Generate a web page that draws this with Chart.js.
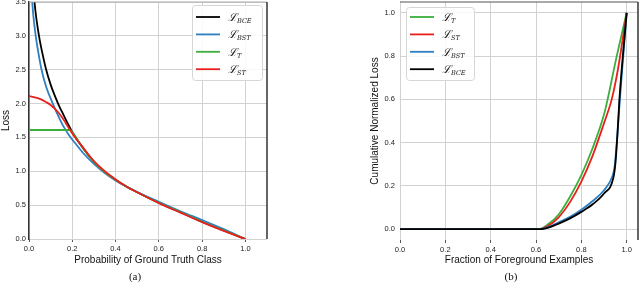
<!DOCTYPE html>
<html>
<head>
<meta charset="utf-8">
<script src="https://cdn.jsdelivr.net/npm/chart.js@4.4.0/dist/chart.umd.min.js"></script>
<style>
  body { margin: 0; background: #fff; width: 640px; height: 283px; position: relative; overflow: hidden; }
  .panel { position: absolute; top: 0; width: 320px; height: 283px; }
  .cap { position: absolute; top: 270px; width: 40px; text-align: center; font: 11px "Liberation Serif", serif; color: #111; line-height: 13px; }
</style>
</head>
<body>
<div class="panel" style="left:0"><canvas id="lossChart"></canvas></div>
<div class="panel" style="left:320px"><canvas id="cumChart"></canvas></div>
<div class="cap" style="left:115px">(a)</div>
<div class="cap" style="left:491px">(b)</div>
<script>
// (a) loss against probability of the ground truth class
const bceP    = [0.022, 0.03, 0.04, 0.05, 0.06, 0.077, 0.1, 0.12, 0.14, 0.16, 0.18, 0.2, 0.25, 0.3, 0.35, 0.4, 0.45, 0.5, 0.6, 0.7, 0.8, 0.9, 1.0];
const bceLoss = [3.62, 3.36, 3.12, 2.93, 2.77, 2.53, 2.28, 2.11, 1.96, 1.83, 1.7, 1.58, 1.34, 1.14, 0.99, 0.875, 0.775, 0.69, 0.535, 0.395, 0.255, 0.125, 0.0];
const bstP    = [0.012, 0.015, 0.02, 0.031, 0.045, 0.058, 0.08, 0.11, 0.135, 0.16, 0.19, 0.2, 0.25, 0.3, 0.35, 0.4, 0.45, 0.5, 0.6, 0.7, 0.8, 0.9, 1.0];
const bstLoss = [3.65, 3.5, 3.3, 3.0, 2.72, 2.5, 2.24, 2.0, 1.82, 1.66, 1.51, 1.47, 1.27, 1.11, 0.975, 0.865, 0.775, 0.695, 0.55, 0.41, 0.28, 0.145, 0.0];
const tP      = [0.0, 0.19, 0.2, 0.25, 0.3, 0.35, 0.4, 0.45, 0.5, 0.6, 0.7, 0.8, 0.9, 1.0];
const tLoss   = [1.61, 1.61, 1.58, 1.34, 1.14, 0.99, 0.875, 0.775, 0.69, 0.535, 0.395, 0.255, 0.125, 0.0];
const stP     = [0.0, 0.05, 0.08, 0.1, 0.12, 0.15, 0.17, 0.192, 0.22, 0.25, 0.3, 0.35, 0.4, 0.45, 0.5, 0.6, 0.7, 0.8, 0.9, 1.0];
const stLoss  = [2.11, 2.07, 2.02, 1.98, 1.92, 1.81, 1.71, 1.6, 1.47, 1.35, 1.15, 1.0, 0.88, 0.775, 0.69, 0.53, 0.39, 0.25, 0.12, 0.0];

// (b) cumulative normalized loss against fraction of foreground examples
const fracT    = [0, 0.61, 0.65, 0.7, 0.75, 0.8, 0.85, 0.9, 0.916, 0.95, 1.0];
const cumT     = [0, 0, 0.02, 0.068, 0.15, 0.25, 0.375, 0.53, 0.6, 0.77, 1.0];
const fracST   = [0, 0.615, 0.65, 0.7, 0.75, 0.8, 0.85, 0.9, 0.934, 0.96, 1.0];
const cumST    = [0, 0, 0.013, 0.055, 0.125, 0.22, 0.34, 0.49, 0.6, 0.73, 1.0];
const fracBST  = [0, 0.615, 0.65, 0.7, 0.75, 0.8, 0.85, 0.9, 0.937, 0.947, 0.96, 0.97, 1.0];
const cumBST   = [0, 0, 0.008, 0.032, 0.057, 0.09, 0.13, 0.18, 0.245, 0.29, 0.45, 0.6, 1.0];
const fracBCE  = [0, 0.62, 0.65, 0.7, 0.75, 0.8, 0.85, 0.9, 0.941, 0.95, 0.96, 0.968, 1.0];
const cumBCE   = [0, 0, 0.006, 0.026, 0.05, 0.08, 0.115, 0.165, 0.236, 0.30, 0.45, 0.6, 1.0];

const xTicks = [0, 0.2, 0.4, 0.6, 0.8, 1.0];
const lossTicks = [0, 0.5, 1.0, 1.5, 2.0, 2.5, 3.0, 3.5];
const cumTicks = [0, 0.2, 0.4, 0.6, 0.8, 1.0];

const legendA = ['BCE', 'BST', 'T', 'ST'];
const legendB = ['T', 'ST', 'BST', 'BCE'];

const COLORS = { BCE: '#000000', BST: '#2f7fc1', T: '#3cae3c', ST: '#e8201c' };

const pts = (xs, ys) => xs.map((x, i) => ({ x: x, y: ys[i] }));

const tickFont = { family: 'Liberation Sans', size: 7.5 };
const titleFont = { family: 'Liberation Sans', size: 10 };

function series(name, xs, ys, order) {
  return {
    label: name,
    data: pts(xs, ys),
    borderColor: COLORS[name],
    borderWidth: 1.8,
    pointRadius: 0,
    cubicInterpolationMode: 'monotone',
    fill: false,
    order: order
  };
}

function fixTicks(values) {
  return function (scale) { scale.ticks = values.map(v => ({ value: v })); };
}

const framePlugin = {
  id: 'frame',
  afterDatasetsDraw(chart, args, opts) {
    const { ctx, chartArea: a } = chart;
    ctx.save();
    (opts.edges || []).forEach(e => {
      ctx.strokeStyle = e.color;
      ctx.lineWidth = e.width;
      ctx.beginPath();
      if (e.side === 'top') { ctx.moveTo(a.left, a.top); ctx.lineTo(a.right, a.top); }
      if (e.side === 'right') { ctx.moveTo(a.right, a.top); ctx.lineTo(a.right, a.bottom); }
      if (e.side === 'left') { ctx.moveTo(a.left, a.top); ctx.lineTo(a.left, a.bottom); }
      ctx.stroke();
    });
    ctx.restore();
  }
};

// legend with a script L and an italic subscript, like the mathtext labels
const mathLegend = {
  id: 'mathLegend',
  afterDraw(chart, args, opts) {
    if (!opts.items) return;
    const ctx = chart.ctx;
    const { x, y, w, h, rowH, first } = opts;
    ctx.save();
    ctx.beginPath();
    ctx.roundRect(x + 0.5, y + 0.5, w, h, 3);
    ctx.fillStyle = 'rgba(255,255,255,0.85)';
    ctx.fill();
    ctx.strokeStyle = '#d6d6d6';
    ctx.lineWidth = 1;
    ctx.stroke();
    opts.items.forEach((name, i) => {
      const cy = y + first + i * rowH;
      ctx.strokeStyle = COLORS[name];
      ctx.lineWidth = 1.8;
      ctx.beginPath();
      ctx.moveTo(x + 4, cy);
      ctx.lineTo(x + 28, cy);
      ctx.stroke();
      ctx.fillStyle = '#111';
      ctx.textBaseline = 'alphabetic';
      ctx.font = 'italic 11px "DejaVu Serif"';
      ctx.fillText('\u2112', x + 36, cy + 4);
      const lw = ctx.measureText('\u2112').width;
      ctx.font = 'italic 6.5px "DejaVu Serif"';
      ctx.fillText(name, x + 36 + lw, cy + 6);
    });
    ctx.restore();
  }
};

function makeOptions(cfg) {
  return {
    responsive: true,
    maintainAspectRatio: false,
    animation: false,
    layout: { padding: cfg.padding },
    plugins: {
      legend: { display: false },
      tooltip: { enabled: false },
      frame: { edges: cfg.edges },
      mathLegend: cfg.legend
    },
    scales: {
      x: {
        type: 'linear',
        min: cfg.xMin, max: cfg.xMax,
        afterBuildTicks: fixTicks(xTicks),
        afterFit(scale) { scale.height = cfg.xHeight; scale.paddingLeft = 0; scale.paddingRight = 0; },
        ticks: { font: tickFont, color: '#222', padding: 2, maxRotation: 0, callback: v => v.toFixed(1) },
        grid: { color: '#d2d2d2', lineWidth: 1, tickLength: 3, tickColor: '#555' },
        border: { display: false },
        title: { display: true, text: cfg.xTitle, font: titleFont, color: '#111', padding: { top: 0, bottom: 17 } }
      },
      y: {
        type: 'linear',
        min: cfg.yMin, max: cfg.yMax,
        afterBuildTicks: fixTicks(cfg.yTicks),
        afterFit(scale) { scale.width = cfg.yWidth; scale.paddingTop = 0; scale.paddingBottom = 0; },
        ticks: { font: tickFont, color: '#222', padding: cfg.yTickPad, callback: v => v.toFixed(1) },
        grid: { color: '#d2d2d2', lineWidth: 1, tickLength: 3, tickColor: cfg.yTickColor },
        border: cfg.yBorder,
        title: { display: true, text: cfg.yTitle, font: titleFont, color: '#111', padding: { top: 0, bottom: 0 } }
      }
    }
  };
}

new Chart(document.getElementById('lossChart'), {
  type: 'line',
  data: {
    datasets: [
      series('ST', stP, stLoss, 0),
      series('T', tP, tLoss, 1),
      series('BST', bstP, bstLoss, 2),
      series('BCE', bceP, bceLoss, 3)
    ]
  },
  options: makeOptions({
    padding: { top: 2, left: 0, right: 53, bottom: 0 },
    xMin: 0, xMax: 1.1, yMin: 0, yMax: 3.5, yTicks: lossTicks,
    xHeight: 44, yWidth: 29, yTickPad: 0, yTickColor: 'rgba(0,0,0,0)',
    yBorder: { display: true, color: '#333', width: 1.5 },
    xTitle: 'Probability of Ground Truth Class', yTitle: 'Loss',
    edges: [{ side: 'top', color: '#aaa', width: 1 }, { side: 'right', color: '#333', width: 1.5 }],
    legend: { items: legendA, x: 192, y: 5, w: 70, h: 75, rowH: 17.4, first: 12 }
  }),
  plugins: [framePlugin, mathLegend]
});

new Chart(document.getElementById('cumChart'), {
  type: 'line',
  data: {
    datasets: [
      series('BCE', fracBCE, cumBCE, 0),
      series('BST', fracBST, cumBST, 1),
      series('ST', fracST, cumST, 2),
      series('T', fracT, cumT, 3)
    ]
  },
  options: makeOptions({
    padding: { top: 2, left: 49, right: 2, bottom: 0 },
    xMin: 0, xMax: 1.05, yMin: -0.05, yMax: 1.05, yTicks: cumTicks,
    xHeight: 43, yWidth: 31, yTickPad: 2, yTickColor: 'rgba(0,0,0,0)',
    yBorder: { display: false },
    xTitle: 'Fraction of Foreground Examples', yTitle: 'Cumulative Normalized Loss',
    edges: [{ side: 'top', color: '#555', width: 1.2 }, { side: 'right', color: '#333', width: 1.5 }],
    legend: { items: legendB, x: 86, y: 7, w: 68, h: 73, rowH: 17.4, first: 10 }
  }),
  plugins: [framePlugin, mathLegend]
});
</script>
</body>
</html>
